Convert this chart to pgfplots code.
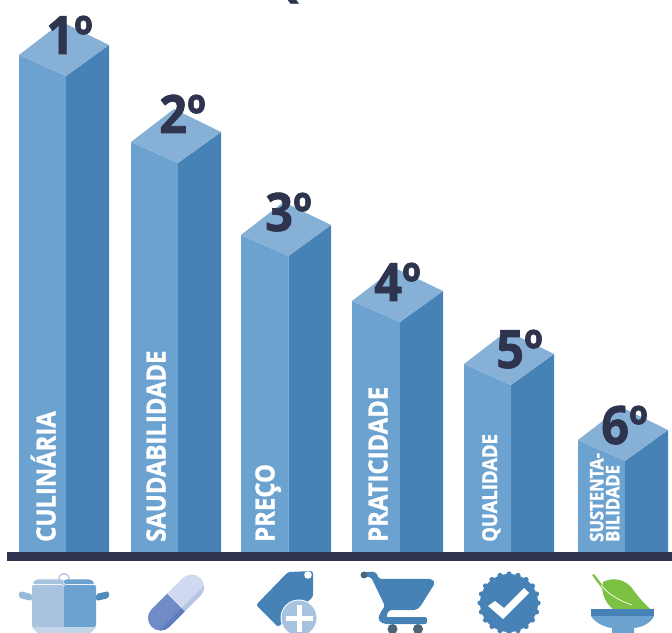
\documentclass[border=0pt]{standalone}
\usepackage{fontspec}
\setmainfont{Open Sans}
\newfontfamily\rankfont[FakeStretch=0.92,FakeBold=1.2]{Open Sans Bold}
\newfontfamily\labelfont[FakeStretch=0.9,FakeBold=1.2]{Open Sans Bold}
\usepackage{pgfplots}
\pgfplotsset{compat=1.18}
\definecolor{barfront}{RGB}{108,162,208}
\definecolor{barside}{RGB}{70,130,181}
\definecolor{bartop}{RGB}{135,176,215}
\definecolor{ink}{RGB}{46,51,78}
\definecolor{potlight}{RGB}{167,195,224}
\definecolor{potpale}{RGB}{197,214,234}
\definecolor{pilldark}{RGB}{112,139,198}
\definecolor{pillshade}{RGB}{95,125,190}
\definecolor{pilllight}{RGB}{208,217,239}
\definecolor{pilledge}{RGB}{182,196,230}
\definecolor{wheel}{RGB}{78,100,120}
\definecolor{leaf}{RGB}{124,193,66}
% One isometric column: left edge, centre edge, right edge, height at the centre edge
\newcommand{\isobar}[4]{%
  \addplot[fill=barfront,draw=none] coordinates {(#1,0) (#1,#4+21) (#2,#4) (#2,0)} -- cycle;
  \addplot[fill=barside,draw=none] coordinates {(#2,0) (#2,#4) (#3,#4+31) (#3,0)} -- cycle;
  \addplot[fill=bartop,draw=none] coordinates {(#1,#4+21) (#2,#4) (#3,#4+31) (#1+#3-#2,#4+54)} -- cycle;
}
\newcommand{\rank}[3]{\node[anchor=base west,inner sep=0,text=ink,font=\rankfont\fontsize{53}{53}\selectfont] at (#1,#2) {#3º};}
\newcommand{\vlabel}[4]{\node[anchor=base west,inner sep=0,rotate=90,text=white,font=\labelfont\fontsize{#3}{#3}\selectfont] at (#1,#2) {#4};}
\begin{document}
\begin{tikzpicture}[x=1pt,y=1pt]
\path[use as bounding box] (0,0) rectangle (672,632);
\begin{axis}[
  at={(0,0)},anchor=south west,
  scale only axis,width=672pt,height=632pt,
  xmin=0,xmax=672,ymin=-80,ymax=552,
  hide axis,clip=false]
\isobar{19}{66}{109}{476}
\isobar{131}{178}{221}{389}
\isobar{241}{288.5}{331}{296}
\isobar{352}{400}{443}{230}
\isobar{464}{511}{554}{167}
\isobar{578}{625}{668}{91}
% column labels
\vlabel{55.5}{10}{26.5}{CULINÁRIA}
\vlabel{165.5}{10}{26.5}{SAUDABILIDADE}
\vlabel{274.5}{10}{26.5}{PREÇO}
\vlabel{387.5}{10}{26.5}{PRATICIDADE}
\vlabel{497}{10}{20.5}{QUALIDADE}
\node[anchor=south west,inner sep=0,rotate=90,text=white,align=left,font=\labelfont\fontsize{18.5}{16}\selectfont] at (619.5,10) {SUSTENTA-\\BILIDADE};
% ranks
\rank{46}{498}{1}
\rank{159}{419}{2}
\rank{265}{321}{3}
\rank{374}{251}{4}
\rank{496}{184}{5}
\rank{601}{108}{6}
\end{axis}
% everything below is laid out from the top left corner of the page
\begin{scope}[y=-1pt,yshift=632pt]
% heading cut by the page edge
\node[anchor=base,inner sep=0,text=ink,font=\rankfont\fontsize{44}{44}\selectfont] at (285,-4) {Q};
% ground line
\fill[ink] (7,552) rectangle (672,561);
% pot
\fill[potlight!85!barside,rounded corners=2.5pt] (19,591) -- (32,594) -- (32,601) -- (19,598) -- cycle;
\fill[barside!70!barfront,rounded corners=2.5pt] (109,591) -- (96,594) -- (96,601) -- (109,598) -- cycle;
\draw[potlight,line width=1.2pt] (64,579) circle (5.5);
\fill[potlight,rounded corners=2pt] (33,584) -- (33,582) -- (36,579.5) -- (64,579.5) -- (64,584) -- cycle;
\fill[barfront,rounded corners=2pt] (64,584) -- (64,579.5) -- (91,579.5) -- (94,582) -- (94,584) -- cycle;
\fill[potlight,rounded corners=2pt] (64,634) -- (39,634) -- (32,627) -- (32,585) -- (64,585) -- cycle;
\fill[barfront,rounded corners=2pt] (64,634) -- (89,634) -- (96,627) -- (96,585) -- (64,585) -- cycle;
\begin{scope}
\clip (39,634) -- (32,627) -- (96,627) -- (89,634) -- cycle;
\fill[potpale] (32,627) rectangle (64,634);
\fill[potlight!70!white] (64,627) rectangle (96,634);
\end{scope}
% capsule
\begin{scope}[shift={(176,602.5)},rotate=45,y=1pt]
\begin{scope}
\clip (0,-12.5) -- (-22,-12.5) arc[start angle=270,end angle=90,radius=12.5] -- (0,12.5) -- cycle;
\fill[pilldark] (-40,-14) rectangle (0,14);
\fill[pillshade] (-40,-14) rectangle (0,-8);
\end{scope}
\begin{scope}
\clip (0,-12.5) -- (22,-12.5) arc[start angle=-90,end angle=90,radius=12.5] -- (0,12.5) -- cycle;
\fill[pilllight] (0,-14) rectangle (40,14);
\fill[pilledge] (0,-14) rectangle (40,-8);
\end{scope}
\end{scope}
% price tag
\fill[barside,rounded corners=2.5pt] (313,571) -- (288,572) -- (256,605) -- (278,627) -- (313,597) -- cycle;
\fill[white] (308,575) circle (3.8);
\fill[white] (299,618) circle (18.5);
\fill[potlight] (299,618) circle (17.5);
\fill[white] (296.5,604.5) rectangle (301.5,631.5);
\fill[white] (285.5,615.5) rectangle (312.5,620.5);
% cart
\fill[barside,rounded corners=2pt] (364,572) -- (376,572) -- (379,579) -- (432,579) -- (435,583) -- (420,607) -- (416,610) -- (389,610) -- (386,617) -- (427,617) -- (427,624) -- (384,624) -- (378,620) -- (380,613) -- (385,606) -- (371,577) -- (364,577) -- cycle;
\fill[wheel] (364,575) circle (3.5);
\fill[wheel] (392.5,629) circle (5);
\fill[wheel] (418,629) circle (5);
% seal with tick
\fill[barside] (509,603) circle (29);
\foreach \a in {0,18,...,342} \fill[barside] (509,603) ++(\a:29) circle (2.6);
\fill[white] (488,606) -- (495,601) -- (504,608) -- (524,588) -- (529,593) -- (503,619) -- cycle;
% bowl with leaf
\fill[leaf] (592,575) -- (594,574) -- (604,587) -- (606,594) -- cycle;
\fill[leaf] (603,582) .. controls (608,579) and (622,576) .. (632,588) .. controls (638,597) and (644,603) .. (650,609) -- (613,609) .. controls (606,604) and (600,592) .. (603,582) -- cycle;
\draw[white,line width=.7pt] (601,585) .. controls (608,594) and (618,600) .. (632,605);
\fill[barfront] (591,616) .. controls (596,625) and (610,628) .. (612,628) -- (612,640) -- (634,640) -- (634,628) .. controls (638,628) and (650,625) .. (654,616) -- cycle;
\fill[barside] (591,609) rectangle (654,616);
\end{scope}
\end{tikzpicture}
\end{document}
